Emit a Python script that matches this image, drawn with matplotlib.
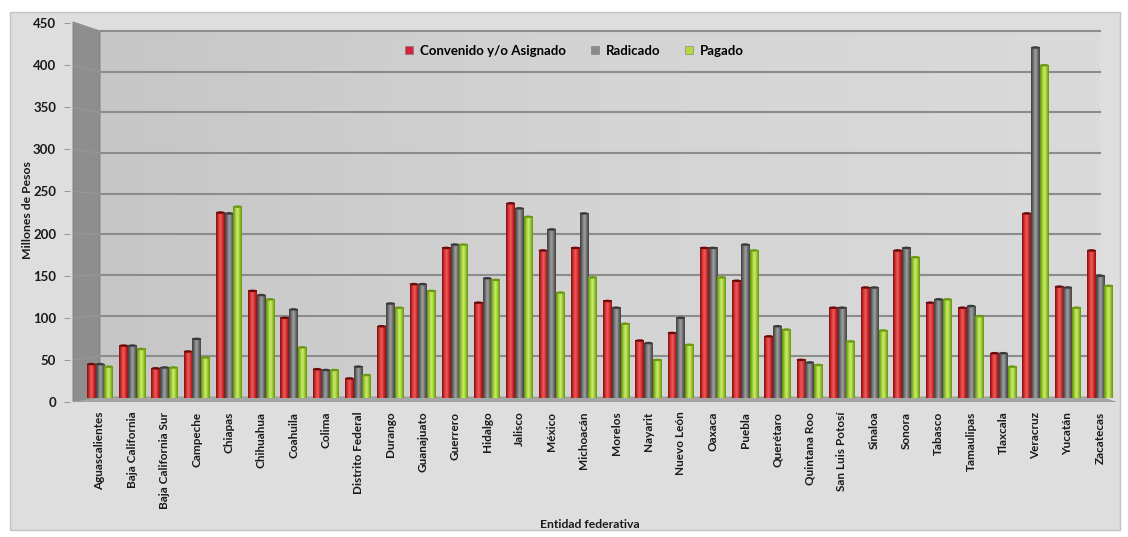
import numpy as np
import matplotlib
matplotlib.use('Agg')
import matplotlib.pyplot as plt
from matplotlib.colors import LinearSegmentedColormap
from matplotlib.patches import Polygon, Rectangle, Ellipse
from matplotlib.lines import Line2D

plt.rcParams['font.family'] = ['Lato', 'DejaVu Sans']
plt.rcParams['font.weight'] = 'bold'

estados = ['Aguascalientes', 'Baja California', 'Baja California Sur', 'Campeche',
           'Chiapas', 'Chihuahua', 'Coahuila', 'Colima', 'Distrito Federal',
           'Durango', 'Guanajuato', 'Guerrero', 'Hidalgo', 'Jalisco', 'México',
           'Michoacán', 'Morelos', 'Nayarit', 'Nuevo León', 'Oaxaca', 'Puebla',
           'Querétaro', 'Quintana Roo', 'San Luis Potosí', 'Sinaloa', 'Sonora',
           'Tabasco', 'Tamaulipas', 'Tlaxcala', 'Veracruz', 'Yucatán', 'Zacatecas']
convenido = [45, 67, 40, 60, 225, 132, 100, 39, 28, 90, 140, 183, 118, 236, 180,
             183, 120, 73, 82, 183, 144, 78, 50, 112, 136, 180, 118, 112, 58, 224,
             137, 180]
radicado = [45, 67, 41, 75, 224, 127, 110, 38, 42, 117, 140, 187, 147, 230, 205,
            224, 112, 70, 100, 183, 187, 90, 47, 112, 136, 183, 122, 114, 58, 421,
            136, 150]
pagado = [42, 63, 41, 53, 232, 122, 65, 38, 32, 112, 132, 187, 145, 220, 130,
          148, 93, 50, 68, 148, 180, 86, 44, 72, 85, 172, 122, 102, 42, 400,
          112, 138]
series = ['Convenido y/o Asignado', 'Radicado', 'Pagado']

W, H = 1128, 537
# pixel helpers (image coords, origin top-left)
PXU = 32.26   # px per category
PYU = 0.842   # px per peso-million
def X(px):
    return (px - 100) / PXU
def Y(py):
    return (402 - py) / PYU
def back(v):
    # gridline position on the back wall
    return Y(397 - 0.813 * v)

fig = plt.figure(figsize=(W / 100, H / 100), dpi=100)
fig.patch.set_facecolor('white')
fig.patches.append(Rectangle((10 / W, 1 - 530 / H), 1110 / W, 518 / H,
                             transform=fig.transFigure, facecolor='#dedede',
                             edgecolor='#c4c4c4', lw=1, zorder=-5))

ax_l, ax_r, ax_t = 70, 1118, 402 - 452 * PYU
ax = fig.add_axes([ax_l / W, 1 - 402 / H, (ax_r - ax_l) / W, (402 - ax_t) / H])
ax.patch.set_visible(False)
for s in ax.spines.values():
    s.set_visible(False)

# back wall
grad = np.linspace(0, 1, 200).reshape(1, -1)
wall_cm = LinearSegmentedColormap.from_list('wall', ['#c6c6c6', '#d4d4d4', '#dadada'])
ax.imshow(grad, extent=(X(100), X(1100), Y(397), Y(31)), aspect='auto',
          cmap=wall_cm, zorder=0, interpolation='bicubic')
# left wall
ax.add_patch(Polygon([(X(73), Y(22)), (X(100), Y(31)), (X(100), Y(397)), (X(73), Y(402))],
                     closed=True, facecolor='#8e8e8e', edgecolor='#7a7a7a', lw=0.6, zorder=1))
# floor
ax.add_patch(Polygon([(X(73), Y(402)), (X(100), Y(397)), (X(1100), Y(397)), (X(1116), Y(402))],
                     closed=True, facecolor='#a6a6a6', edgecolor='#9a9a9a', lw=0.6, zorder=1))
# gridlines on the back wall
for v in range(50, 451, 50):
    ax.plot([X(100), X(1100)], [back(v), back(v)], color='#8c8c8c', lw=1.5, zorder=1)
    ax.plot([X(73), X(100)], [Y(402 - v * PYU), back(v)], color='#9a9a9a', lw=0.6, zorder=1)

cmaps = [
    LinearSegmentedColormap.from_list('r', ['#7a0c0c', '#d63030', '#f06060', '#cc2a2a', '#8a1010']),
    LinearSegmentedColormap.from_list('g', ['#3a3a3a', '#707070', '#a4a4a4', '#6c6c6c', '#404040']),
    LinearSegmentedColormap.from_list('v', ['#5e8a0c', '#9ccc30', '#d0ee78', '#96c428', '#628e10']),
]
caps = ['#6a0a0a', '#3a3a3a', '#6a9a14']
legend_cols = ['#d8203a', '#8a8a8a', '#b8d840']

bw = 0.27
xs = np.arange(len(estados))
for k, vals in enumerate([convenido, radicado, pagado]):
    for i, v in enumerate(vals):
        x0 = xs[i] + (k - 1) * bw - bw / 2
        ax.imshow(grad, extent=(x0, x0 + bw, Y(398), v), aspect='auto',
                  cmap=cmaps[k], zorder=3 + k, interpolation='bicubic')
        ax.add_patch(Ellipse((x0 + bw / 2, v), bw, 3.0, facecolor=caps[k],
                             edgecolor='none', zorder=3 + k))

ax.set_xlim(X(ax_l), X(ax_r))
ax.set_ylim(0, 452)

ax.set_yticks(range(0, 451, 50))
ax.set_yticklabels([str(v) for v in range(0, 451, 50)], fontsize=9.5, fontweight='bold',
                   color='#1a1a1a')
ax.tick_params(axis='y', length=4, color='#9a9a9a', pad=6)
ax.set_xticks(xs)
ax.set_xticklabels(estados, rotation=90, fontsize=8.5, fontweight='bold', color='#1a1a1a')
ax.tick_params(axis='x', length=0, pad=7)

fig.text(590 / W, 1 - 524 / H, 'Entidad federativa', ha='center', va='center',
         fontsize=8.8, fontweight='bold', color='#1a1a1a')
fig.text(28 / W, 1 - 210 / H, 'Millones de Pesos', ha='center', va='center',
         rotation=90, fontsize=8.8, fontweight='bold', color='#1a1a1a')

handles = [Line2D([], [], marker='s', ls='none', markersize=6, markerfacecolor=c,
                  markeredgecolor='#777777', markeredgewidth=0.4) for c in legend_cols]
fig.legend(handles, series, loc='center', bbox_to_anchor=(570 / W, 1 - 51 / H), ncol=3,
           frameon=False, handletextpad=-0.2, columnspacing=1.2,
           prop={'weight': 'bold', 'size': 9.5})

fig.savefig('out.png', dpi=100)
